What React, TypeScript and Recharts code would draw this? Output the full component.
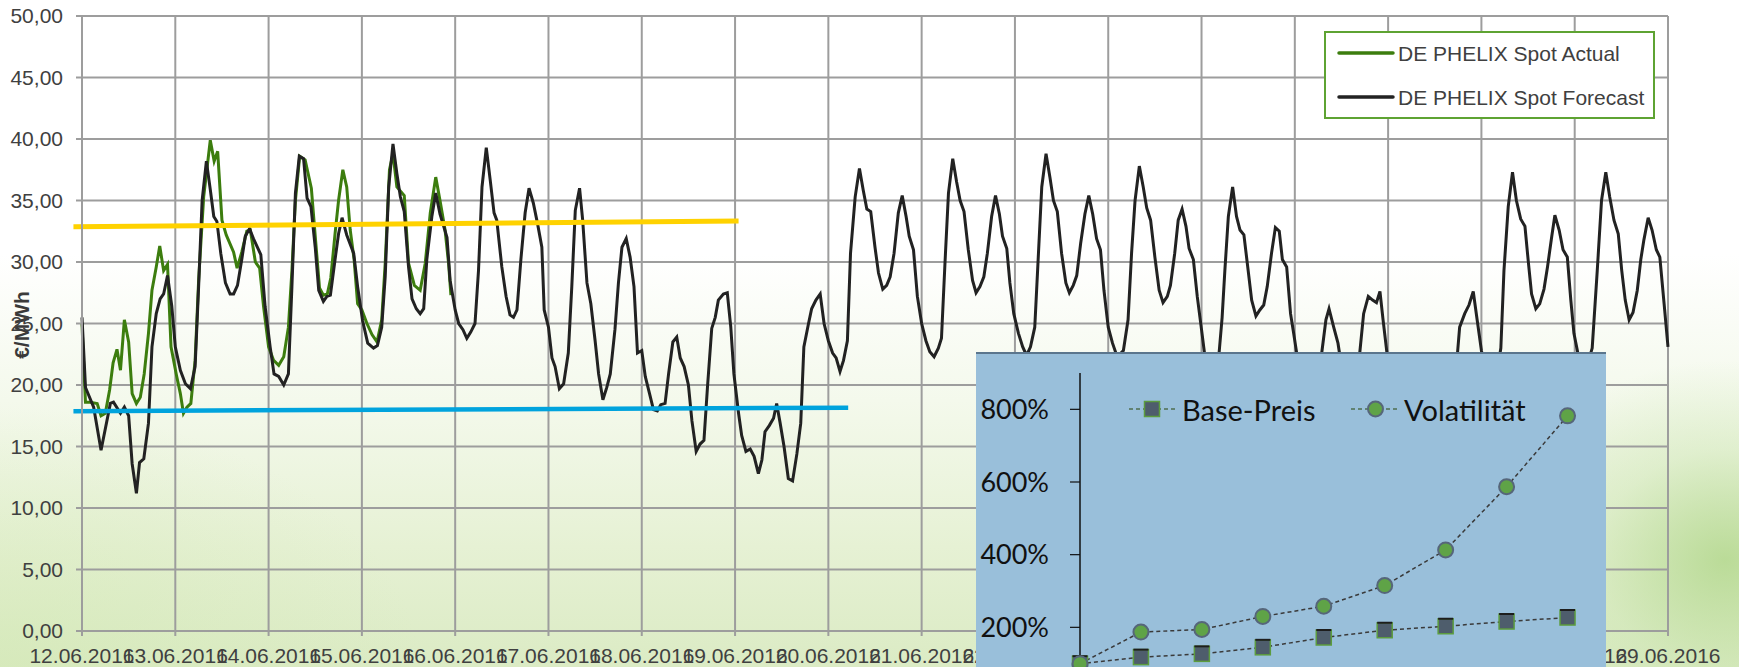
import React from "react";
import {
  LineChart,
  Line,
  XAxis,
  YAxis,
  CartesianGrid,
  ReferenceLine,
} from "recharts";

// day labels of the x axis, one tick per 24 hours
const dayLabels = [
  "12.06.2016", "13.06.2016", "14.06.2016", "15.06.2016", "16.06.2016",
  "17.06.2016", "18.06.2016", "19.06.2016", "20.06.2016", "21.06.2016",
  "22.06.2016", "23.06.2016", "24.06.2016", "25.06.2016", "26.06.2016",
  "27.06.2016", "28.06.2016", "29.06.2016",
];
const priceTicks = [0, 5, 10, 15, 20, 25, 30, 35, 40, 45, 50];

// [hour since 12.06. 00:00, €/MWh]
const actual: [number, number][] = [
  [0, 25.0], [0.3, 22.6], [0.9, 18.6], [2.1, 18.6], [3.9, 18.5], [4.9, 17.5],
  [6, 17.7], [7.1, 19.6], [8, 21.8], [9, 22.9], [9.9, 21.2], [10.9, 25.3],
  [12, 23.5], [12.9, 19.3], [14, 18.5], [15, 19.0], [16, 20.9], [17.1, 24.2],
  [18, 27.7], [19.1, 29.6], [20, 31.3], [21, 29.3], [22, 29.8], [22.9, 23.1],
  [24.3, 20.8], [25.3, 19.3], [26.1, 17.7], [27, 18.2], [28, 18.5], [29.1, 22.0],
  [30, 28.5], [31.3, 35.3], [33, 39.9], [34, 38.2], [34.9, 39.0], [36, 33.4],
  [37.1, 32.2], [39, 30.8], [39.9, 29.5], [41.1, 30.8], [42.4, 32.5], [43.3, 32.6],
  [44.6, 30.0], [45.7, 29.5], [46.7, 26.4], [48, 23.1], [49.3, 22.0], [50.6, 21.6],
  [51.9, 22.3], [53.1, 24.7], [54, 29.3], [54.9, 35.0], [56, 38.6], [57.4, 38.3],
  [59, 36.0], [60, 32.1], [61.1, 27.9], [62.1, 27.3], [63.1, 27.4], [64, 28.7],
  [65.1, 32.3], [66, 35.0], [67.1, 37.5], [68.1, 36.1], [69, 32.6], [70, 30.2],
  [70.9, 26.6], [72, 26.1], [73.3, 25.0], [74.6, 24.1], [75.9, 23.5], [77.1, 25.3],
  [78, 29.9], [79.1, 37.5], [80, 38.8], [81, 36.1], [82.9, 35.4], [84, 29.9],
  [85.5, 28.1], [87, 27.7], [88.3, 29.9], [89.6, 34.0], [91, 36.9], [92.1, 35.0],
  [93.4, 32.6], [94.3, 29.9], [94.9, 27.3],
];

const forecast: [number, number][] = [
  [0, 25.5], [0.9, 19.8], [3, 18.2], [4.9, 14.7], [7.3, 18.5], [8.1, 18.6],
  [9.9, 17.7], [10.9, 18.2], [12, 17.5], [12.9, 13.6], [14, 11.2], [14.8, 13.7],
  [15.9, 14.0], [17.1, 16.9], [18, 23.1], [19.1, 25.8], [20.1, 27.0], [21, 27.4],
  [22, 28.9], [23.1, 26.4], [24, 23.1], [25.3, 21.2], [26.6, 20.1], [27.9, 19.7],
  [29.1, 21.5], [30, 28.0], [30.9, 35.0], [32, 38.2], [33, 35.9], [33.9, 33.7],
  [34.7, 33.3], [35.7, 30.7], [36.9, 28.3], [38.1, 27.4], [39, 27.4], [40, 28.1],
  [41.1, 30.2], [42, 32.1], [43.1, 32.7], [44.1, 31.9], [46, 30.6], [47.1, 26.4],
  [48.4, 23.1], [49.4, 20.9], [50.6, 20.7], [51.9, 20.0], [53.1, 20.9], [54, 28.0],
  [54.9, 35.6], [55.9, 38.6], [57, 38.4], [57.9, 35.2], [58.9, 34.5], [60, 31.2],
  [60.9, 27.7], [62.1, 26.8], [63, 27.2], [63.9, 27.3], [65.1, 30.2], [66, 32.3],
  [66.9, 33.6], [68.1, 32.2], [69.9, 30.7], [70.9, 28.0], [72.2, 25.2], [73.5, 23.4],
  [75, 23.0], [76, 23.2], [77.1, 24.7], [78, 28.8], [78.9, 36.1], [80, 39.6],
  [81, 37.2], [81.9, 35.3], [82.9, 34.1], [84, 29.6], [84.9, 27.0], [86, 26.2],
  [87, 25.8], [87.9, 26.2], [88.7, 30.2], [90, 33.7], [91, 35.6], [92.1, 33.9],
  [93.9, 32.0], [94.7, 28.5], [96, 26.1], [96.9, 25.0], [98, 24.5], [99, 23.8],
  [100, 24.3], [101.1, 25.0], [102, 29.3], [102.9, 36.1], [104, 39.3], [105, 36.7],
  [106, 34.0], [106.7, 33.4], [108, 29.6], [109.1, 27.2], [110.1, 25.7], [111, 25.5],
  [111.9, 26.1], [112.9, 30.2], [114, 34.0], [115, 36.0], [116.1, 34.8], [117.2, 33.1],
  [118.3, 31.2], [118.9, 26.1], [120, 24.7], [120.9, 22.2], [121.7, 21.5], [122.8, 19.7],
  [123.9, 20.1], [125.1, 22.6], [126, 28.0], [126.9, 34.2], [128, 36.0], [128.8, 33.4],
  [129.9, 28.3], [130.9, 26.6], [132, 23.6], [132.9, 20.9], [134, 18.8], [135, 19.8],
  [135.9, 20.9], [137.1, 24.5], [138, 28.3], [138.9, 31.2], [140, 31.9], [141, 30.4],
  [142, 28.0], [142.9, 22.6], [144, 22.8], [144.9, 20.7], [146, 19.3], [147, 18.0],
  [148, 17.9], [148.9, 18.4], [150, 18.5], [150.9, 20.9], [152, 23.5], [153, 23.9],
  [153.9, 22.2], [154.9, 21.5], [156, 20.0], [156.9, 17.1], [158, 14.6], [159, 15.2],
  [160, 15.5], [160.9, 19.8], [162, 24.6], [162.9, 25.5], [163.7, 26.9], [165, 27.4],
  [166, 27.5], [166.9, 24.7], [167.7, 20.9], [168.9, 17.7], [169.7, 15.9], [170.8, 14.6],
  [171.9, 14.8], [172.9, 14.2], [174, 12.8], [174.9, 13.9], [175.7, 16.2], [176.8, 16.7],
  [177.9, 17.3], [178.7, 18.5], [179.6, 16.9], [180.6, 15.0], [181.7, 12.4], [182.8, 12.2],
  [183.9, 14.4], [184.9, 16.9], [185.7, 23.1], [186.9, 25.0], [187.7, 26.2], [188.8, 26.9],
  [189.9, 27.4], [190.9, 25.0], [192, 23.6], [193.1, 22.6], [194, 22.2], [195, 21.1],
  [195.9, 22.0], [196.9, 23.6], [197.7, 30.7], [198.9, 35.3], [200, 37.6], [201, 35.8],
  [201.9, 34.3], [202.9, 34.1], [204, 31.2], [204.9, 29.1], [206, 27.8], [207, 28.1],
  [207.9, 28.8], [208.9, 30.7], [210, 34.0], [211, 35.4], [212, 33.7], [212.8, 32.1],
  [213.9, 31.0], [214.9, 27.2], [216, 25.0], [217.1, 23.6], [218.1, 22.7], [219.2, 22.3],
  [220.3, 23.0], [221.1, 23.8], [222, 29.9], [222.9, 35.6], [224, 38.4], [225, 36.5],
  [225.9, 35.0], [226.9, 34.1], [228, 31.0], [229.1, 28.5], [230, 27.5], [231, 28.0],
  [232, 28.8], [232.9, 30.7], [234, 33.7], [235, 35.4], [236, 33.9], [236.8, 32.1],
  [237.9, 31.1], [238.7, 28.3], [239.7, 25.8], [240.9, 24.2], [242, 23.1], [243, 22.4],
  [244, 23.1], [245.1, 24.7], [246, 30.4], [246.9, 36.1], [248, 38.8], [249, 36.9],
  [249.9, 35.0], [250.9, 34.1], [252, 30.7], [253.1, 28.3], [254, 27.5], [255, 28.1],
  [255.9, 28.9], [256.9, 31.5], [258, 33.9], [259, 35.4], [260, 33.9], [261, 31.9],
  [262, 31.0], [262.9, 27.7], [264, 24.7], [265.1, 23.4], [266.3, 22.3], [267.9, 22.8],
  [269.1, 25.3], [270, 30.7], [270.9, 35.0], [272, 37.8], [273, 36.1], [273.9, 34.4],
  [274.9, 33.4], [276, 30.4], [277.1, 27.7], [278.1, 26.7], [279.2, 27.2], [280, 28.1],
  [281.1, 30.7], [282, 33.4], [283, 34.3], [284, 32.9], [284.8, 31.1], [285.9, 30.2],
  [286.9, 27.2], [288, 24.5], [289.2, 21.5], [290.3, 20.2], [291.3, 20.6], [292.3, 21.8],
  [293.3, 25.5], [294, 29.3], [294.9, 33.7], [296, 36.1], [297, 33.7], [297.9, 32.6],
  [298.9, 32.2], [300, 29.3], [300.9, 26.9], [302, 25.6], [303, 26.1], [304, 26.5],
  [304.9, 28.0], [306, 30.7], [307, 32.8], [308, 32.5], [308.8, 30.2], [309.9, 29.6],
  [310.9, 25.8], [311.7, 24.2], [313, 21.5], [314.5, 19.5], [316, 18.6], [317.5, 19.3],
  [319, 22.8], [320, 25.3], [320.8, 26.2], [322, 24.7], [323.1, 23.4], [324.5, 20.5],
  [326, 18.8], [327.5, 19.5], [328.7, 22.6], [329.7, 25.8], [330.9, 27.2], [332, 26.9],
  [333, 26.7], [333.9, 27.6], [334.7, 25.3], [335.7, 22.6], [337.5, 19.5], [339.5, 17.5],
  [341.5, 16.8], [343.5, 17.6], [345.5, 17.0], [347.5, 14.8], [349.5, 14.0], [351.5, 15.6],
  [353.3, 20.5], [354.4, 24.7], [355.7, 25.8], [356.8, 26.5], [357.9, 27.6], [358.9, 25.3],
  [360, 22.8], [361.3, 20.6], [362.5, 19.6], [363.7, 20.4], [365, 23.0], [365.8, 29.3],
  [366.9, 34.5], [368, 37.3], [369, 35.0], [370.1, 33.5], [371.2, 32.9], [372.1, 29.9],
  [372.9, 27.4], [374, 26.2], [375, 26.6], [376.1, 27.8], [377, 29.6], [378.1, 32.1],
  [378.9, 33.8], [380, 32.6], [381, 31.0], [382.1, 30.4], [383, 26.9], [383.8, 24.2],
  [385, 22.3], [386.2, 21.4], [387.4, 21.8], [388.5, 23.0], [389.8, 29.3], [390.9, 35.0],
  [392, 37.3], [393, 35.3], [394.1, 33.4], [395.2, 32.3], [396.1, 29.3], [397, 26.9],
  [398, 25.3], [399, 25.9], [400.1, 27.7], [401, 30.2], [401.8, 31.8], [402.9, 33.6],
  [403.9, 32.6], [405, 31.0], [405.9, 30.4], [407, 26.6], [408, 23.1],
];

// hand drawn trend lines: [hour, €/MWh] start and end
const upperTrend: [number, number][] = [[-2.2, 32.87], [168.9, 33.33]];
const lowerTrend: [number, number][] = [[-2.2, 17.87], [197.1, 18.16]];

// inset chart
const insetSteps = [0, 1, 2, 3, 4, 5, 6, 7, 8];
const basePreis = [100, 118, 127, 145, 172, 192, 203, 216, 227];
const volatilitaet = [100, 187, 194, 230, 258, 315, 413, 587, 782];
const insetTicks = [0, 200, 400, 600, 800];

const FONT = "'Liberation Sans', Arial, sans-serif";
const INSET_FONT = "Lato, 'Noto Sans', sans-serif";
const GRID = "#9d9d9d";

const toPoints = (rows: [number, number][]) => rows.map(([h, v]) => ({ h, v }));
const seg = (rows: [number, number][]) => rows.map(([x, y]) => ({ x, y }));

const insetData = insetSteps.map((s, i) => ({
  s,
  base: basePreis[i],
  vol: volatilitaet[i],
}));

const YTitle = () => (
  <text
    x={21}
    y={325}
    transform="rotate(-90, 21, 325)"
    textAnchor="middle"
    dominantBaseline="central"
    fontFamily={FONT}
    fontWeight="bold"
    fontSize={21}
    fill="#3a3a3a"
  >
    €/MWh
  </text>
);

const SquareDot = (props: any) => {
  const { cx, cy, index } = props;
  return (
    <g key={`sq-${index}`}>
      <rect x={cx - 7.5} y={cy - 7.5} width={15} height={15} fill="#4e5d6c" stroke="#5c9c3e" strokeWidth={1.5} />
      <line x1={cx - 7.5} x2={cx + 7.5} y1={cy - 7.5} y2={cy - 7.5} stroke="#1d1d1d" strokeWidth={2} />
    </g>
  );
};

const CircleDot = (props: any) => {
  const { cx, cy, index } = props;
  return <circle key={`ci-${index}`} cx={cx} cy={cy} r={7.5} fill="#5fa347" stroke="#56667a" strokeWidth={2} />;
};

const Inset = () => (
  <div
    style={{
      position: "absolute",
      left: 976,
      top: 352,
      width: 630,
      height: 320,
      background: "#99bfda",
      borderTop: "2px solid #5b768d",
      overflow: "hidden",
    }}
  >
    <LineChart width={630} height={360} data={insetData} margin={{ top: 19, right: 8, bottom: 14, left: 0 }}>
      <XAxis dataKey="s" type="number" domain={[0, 8.5]} hide />
      <YAxis
        type="number"
        domain={[0, 900]}
        ticks={insetTicks}
        width={104}
        tickSize={10}
        tickMargin={21}
        tickFormatter={(v: number) => `${v}%`}
        axisLine={{ stroke: "#111", strokeWidth: 1.5 }}
        tickLine={{ stroke: "#111", strokeWidth: 1.2 }}
        tick={{ fill: "#111", fontSize: 27, fontFamily: INSET_FONT }}
      />
      <Line
        dataKey="base"
        stroke="#3a3a3a"
        strokeWidth={1.5}
        strokeDasharray="4 3"
        dot={SquareDot}
        isAnimationActive={false}
      />
      <Line
        dataKey="vol"
        stroke="#3a3a3a"
        strokeWidth={1.5}
        strokeDasharray="4 3"
        dot={CircleDot}
        isAnimationActive={false}
      />
    </LineChart>
    <svg width={630} height={90} style={{ position: "absolute", left: 0, top: 0 }}>
      <line x1={153} x2={201} y1={55} y2={55} stroke="#4f6f50" strokeWidth={1.5} strokeDasharray="4 3" />
      <rect x={168.5} y={47.5} width={15} height={15} fill="#4e5d6c" stroke="#5c9c3e" strokeWidth={1.5} />
      <text x={206} y={55} dominantBaseline="central" fontFamily={INSET_FONT} fontSize={29} fill="#111">
        Base-Preis
      </text>
      <line x1={375} x2={423} y1={55} y2={55} stroke="#4f6f50" strokeWidth={1.5} strokeDasharray="4 3" />
      <circle cx={399.5} cy={55} r={7.5} fill="#5fa347" stroke="#56667a" strokeWidth={2} />
      <text x={428} y={55} dominantBaseline="central" fontFamily={INSET_FONT} fontSize={29} fill="#111">
        Volatilität
      </text>
    </svg>
  </div>
);

const Legend = () => (
  <div
    style={{
      position: "absolute",
      left: 1324,
      top: 31,
      width: 331,
      height: 88,
      boxSizing: "border-box",
      border: "2px solid #5ea332",
      background: "#ffffff",
    }}
  >
    <svg width={327} height={84}>
      <line x1={13} x2={67} y1={20} y2={20} stroke="#3c7d0e" strokeWidth={3.5} strokeLinecap="round" />
      <text x={72} y={20} dominantBaseline="central" fontFamily={FONT} fontSize={21} fill="#404040">
        DE PHELIX Spot Actual
      </text>
      <line x1={13} x2={67} y1={64} y2={64} stroke="#222" strokeWidth={3.5} strokeLinecap="round" />
      <text x={72} y={64} dominantBaseline="central" fontFamily={FONT} fontSize={21} fill="#404040">
        DE PHELIX Spot Forecast
      </text>
    </svg>
  </div>
);

export default function App() {
  return (
    <div
      style={{
        position: "fixed",
        left: 0,
        top: 0,
        width: 1739,
        height: 667,
        overflow: "hidden",
        background:
          "radial-gradient(ellipse 230px 200px at 1725px 560px, rgba(172,212,132,0.75), rgba(195,225,165,0.35) 55%, rgba(255,255,255,0) 100%)," +
          "radial-gradient(ellipse 420px 260px at 0px 667px, rgba(210,232,180,0.55), rgba(255,255,255,0) 100%)," +
          "linear-gradient(180deg, #ffffff 0%, #ffffff 38%, #f4f9ec 60%, #e6f1d4 82%, #dbebc4 100%)",
      }}
    >
      <LineChart width={1739} height={667} margin={{ top: 16, right: 71, bottom: 0, left: 0 }}>
        <CartesianGrid stroke={GRID} strokeWidth={2} />
        <XAxis
          dataKey="h"
          type="number"
          domain={[0, 408]}
          ticks={dayLabels.map((_, i) => i * 24)}
          interval={0}
          height={36}
          tickSize={5}
          tickMargin={12}
          tickFormatter={(h: number) => dayLabels[Math.round(h / 24)]}
          axisLine={{ stroke: GRID, strokeWidth: 2 }}
          tickLine={{ stroke: GRID, strokeWidth: 2 }}
          tick={{ fill: "#404040", fontSize: 21, fontFamily: FONT }}
        />
        <YAxis
          type="number"
          domain={[0, 50]}
          ticks={priceTicks}
          width={82}
          tickSize={6}
          tickMargin={13}
          tickFormatter={(v: number) => v.toFixed(2).replace(".", ",")}
          axisLine={{ stroke: GRID, strokeWidth: 2 }}
          tickLine={{ stroke: GRID, strokeWidth: 2 }}
          tick={{ fill: "#404040", fontSize: 21, fontFamily: FONT }}
          label={<YTitle />}
        />
        <Line
          data={toPoints(actual)}
          dataKey="v"
          type="linear"
          stroke="#3c7d0e"
          strokeWidth={3}
          dot={false}
          isAnimationActive={false}
        />
        <Line
          data={toPoints(forecast)}
          dataKey="v"
          type="linear"
          stroke="#222222"
          strokeWidth={3}
          dot={false}
          isAnimationActive={false}
        />
        <ReferenceLine segment={seg(upperTrend)} ifOverflow="visible" stroke="#ffd200" strokeWidth={5} />
        <ReferenceLine segment={seg(lowerTrend)} ifOverflow="visible" stroke="#00a3dd" strokeWidth={4.5} />
      </LineChart>
      <Legend />
      <Inset />
    </div>
  );
}
